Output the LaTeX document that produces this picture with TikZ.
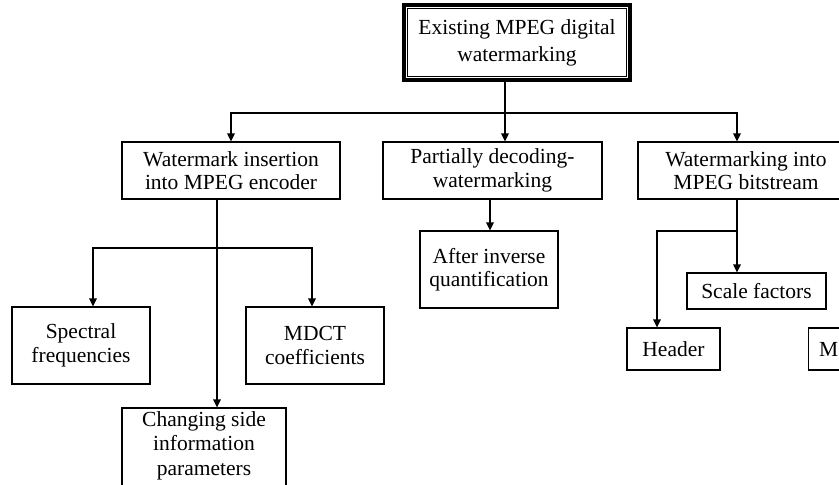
\documentclass[tikz,border=0pt]{standalone}
\usepackage{fontspec}
\setmainfont{Liberation Serif}
\usetikzlibrary{arrows.meta}
\tikzset{
  box/.style={draw=black, line width=1.1pt, rectangle, align=center, inner sep=0pt,
    font=\fontsize{21.5}{23.5}\selectfont},
  topbox/.style={draw=black, line width=3.6pt, rectangle, align=center, inner sep=0pt,
    font=\fontsize{21.5}{27}\selectfont},
  conn/.style={draw=black, line width=1.1pt},
  arr/.style={conn, -{Triangle[width=7.5pt,length=8pt]}}
}
\begin{document}
\begin{tikzpicture}[x=1pt,y=-1pt]
\useasboundingbox (0,0) rectangle (839,485);
% top
\node[topbox, minimum width=226, minimum height=75] (top) at (517,42.5) {Existing MPEG digital\\watermarking};
\draw[line width=1pt] ([shift={(5,5)}]top.north west) rectangle ([shift={(-5,-5)}]top.south east);
% level 1
\node[box, minimum width=218, minimum height=57] (wi) at (231,170.5) {Watermark insertion\\into MPEG encoder};
\node[box, minimum width=219, minimum height=57] (pd) at (492.5,170.5) {Partially decoding-\\watermarking};
\node[box, minimum width=216, minimum height=57] (wb) at (746,170.5) {Watermarking into\\MPEG bitstream};
% level 2
\node[box, minimum width=138, minimum height=77] (sp) at (81,345.5) {Spectral\\frequencies};
\node[box, minimum width=138, minimum height=77] (md) at (315,345.5) {MDCT\\coefficients};
\node[box, minimum width=164, minimum height=84] (cs) at (204,450) {};
\node[font=\fontsize{21.5}{24.5}\selectfont, align=center, anchor=north, inner sep=0pt] (cstxt) at (204,411) {Changing side\\information\\parameters};
\node[box, minimum width=138, minimum height=77] (af) at (489,269.5) {After inverse\\quantification};
\node[box, minimum width=139, minimum height=36] (sf) at (756.5,291) {Scale factors};
\node[box, minimum width=93, minimum height=42] (hd) at (673.5,349) {Header};
\node[box, minimum width=60, minimum height=42, anchor=west] (mb) at (808,349) {};
\node[font=\fontsize{21.5}{23.5}\selectfont, anchor=west, inner sep=0pt] (mtxt) at (819,349) {M};
% junctions
\coordinate (j0) at (505,113);
\coordinate (j1) at (217,248);
\coordinate (j2) at (737,231);
% connectors from top
\draw[conn] (top.south -| j0) -- (j0);
\draw[arr] (j0) -| (wi.north);
\draw[arr] (j0) -- (j0 |- pd.north);
\draw[arr] (j0) -| ([xshift=-9pt]wb.north);
% from wi
\draw[conn] (wi.south -| j1) -- (j1);
\draw[arr] (j1) -| ([xshift=12pt]sp.north);
\draw[arr] (j1) -| ([xshift=-3pt]md.north);
\draw[arr] (j1) -- (j1 |- cs.north);
% from pd
\draw[arr] ([xshift=-2.5pt]pd.south) -- ([xshift=1pt]af.north);
% from wb
\draw[conn] (wb.south -| j2) -- (j2);
\draw[arr] (j2) -- (j2 |- sf.north);
\draw[arr] (j2) -| ([xshift=-16.5pt]hd.north);
\end{tikzpicture}
\end{document}
